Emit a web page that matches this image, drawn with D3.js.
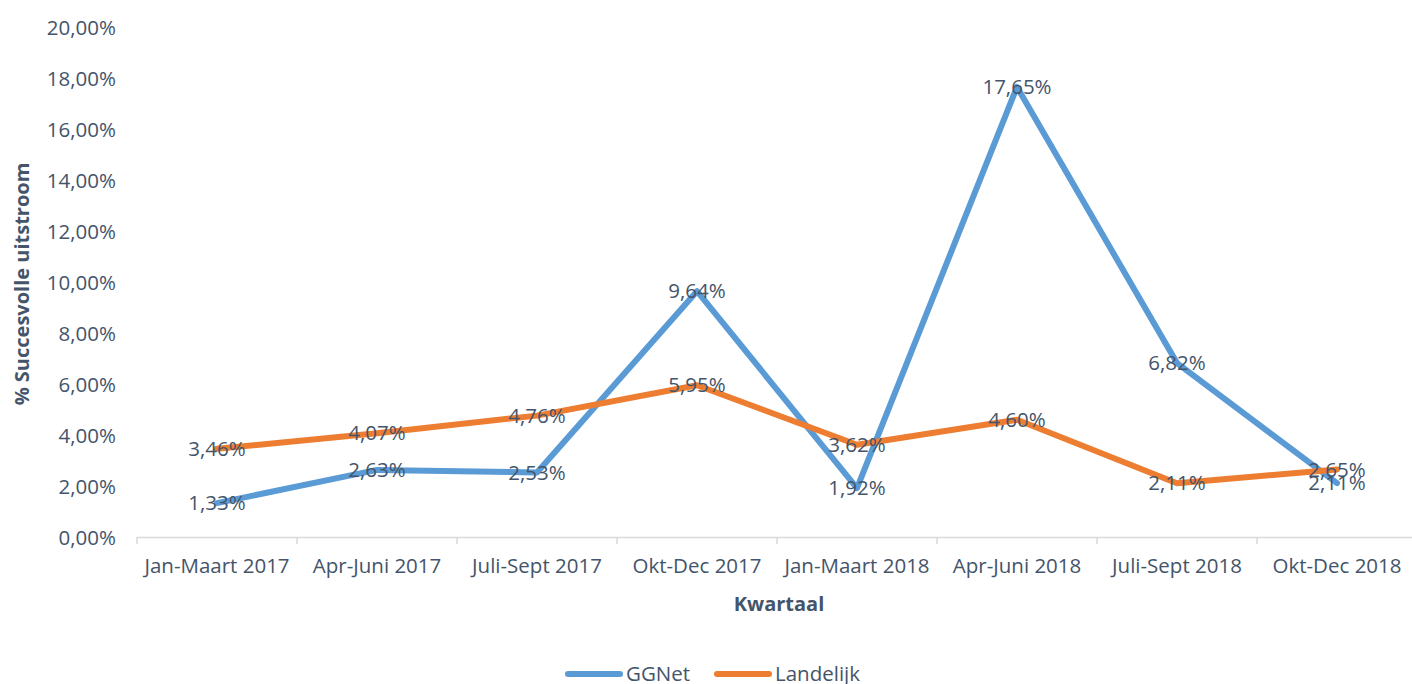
<!DOCTYPE html>
<html>
<head>
  <meta charset="utf-8">
  <script src="https://d3js.org/d3.v7.min.js"></script>
  <style>
    body { margin: 0; background: #fff; font-family: "Open Sans", sans-serif; }
    .tick text { fill: #44546A; font-size: 20.5px; font-family: "Open Sans", sans-serif; }
    .lbl { fill: #44546A; font-size: 20.5px; }
    .title { fill: #44546A; font-size: 20px; font-weight: bold; }
  </style>
</head>
<body>
  <svg width="1412" height="684"></svg>
  <script>
    // data
    const quarters = ['Jan-Maart 2017', 'Apr-Juni 2017', 'Juli-Sept 2017', 'Okt-Dec 2017',
      'Jan-Maart 2018', 'Apr-Juni 2018', 'Juli-Sept 2018', 'Okt-Dec 2018'];
    const ggnet = [1.33, 2.63, 2.53, 9.64, 1.92, 17.65, 6.82, 2.11];
    const landelijk = [3.46, 4.07, 4.76, 5.95, 3.62, 4.60, 2.11, 2.65];
    const yTicks = [0, 2, 4, 6, 8, 10, 12, 14, 16, 18, 20];
    const seriesNames = ['GGNet', 'Landelijk'];
    const colors = ['#5B9BD5', '#ED7D31'];

    const svg = d3.select('svg');
    const fmt = v => v.toFixed(2).replace('.', ',') + '%';

    const x = d3.scaleBand().domain(quarters).range([137, 1417]);
    const y = d3.scaleLinear().domain([0, 20]).range([537, 27]);

    // y axis (labels only)
    const yAxisG = svg.append('g')
      .attr('transform', 'translate(116,0)')
      .call(d3.axisLeft(y).tickValues(yTicks).tickSize(0).tickPadding(0).tickFormat(fmt));
    yAxisG.select('.domain').remove();
    yAxisG.selectAll('text').attr('dy', '0.35em');

    // x axis
    const xAxisG = svg.append('g')
      .attr('transform', 'translate(0,537)')
      .call(d3.axisBottom(x).tickSize(0).tickPadding(21));
    xAxisG.select('.domain').attr('stroke', '#D9D9D9').attr('stroke-width', 1.5);
    xAxisG.selectAll('.tick line').remove();
    // ticks at band boundaries
    const bounds = quarters.map(q => x(q)).concat([x.range()[1]]);
    xAxisG.selectAll('.bnd').data(bounds).enter().append('line')
      .attr('x1', d => d).attr('x2', d => d)
      .attr('y1', 0).attr('y2', 7)
      .attr('stroke', '#D9D9D9').attr('stroke-width', 1.5);

    // lines
    const series = [ggnet, landelijk];
    const line = d3.line()
      .x((d, i) => x(quarters[i]) + x.bandwidth() / 2)
      .y(d => y(d));

    series.forEach((s, k) => {
      svg.append('path')
        .datum(s)
        .attr('fill', 'none')
        .attr('stroke', colors[k])
        .attr('stroke-width', 6)
        .attr('stroke-linecap', 'round')
        .attr('stroke-linejoin', 'round')
        .attr('d', line);
    });

    // data labels centred on points
    series.forEach(s => {
      svg.append('g').selectAll('text').data(s).enter().append('text')
        .attr('class', 'lbl')
        .attr('x', (d, i) => x(quarters[i]) + x.bandwidth() / 2)
        .attr('y', d => y(d))
        .attr('dy', '0.35em')
        .attr('text-anchor', 'middle')
        .text(fmt);
    });

    // axis titles
    svg.append('text')
      .attr('class', 'title')
      .attr('transform', 'translate(29,284) rotate(-90)')
      .attr('text-anchor', 'middle')
      .text('% Succesvolle uitstroom');

    svg.append('text')
      .attr('class', 'title')
      .attr('x', 779).attr('y', 611)
      .attr('text-anchor', 'middle')
      .text('Kwartaal');

    // legend
    const legX = [568, 717];
    seriesNames.forEach((n, k) => {
      svg.append('line')
        .attr('x1', legX[k]).attr('x2', legX[k] + 52)
        .attr('y1', 674).attr('y2', 674)
        .attr('stroke', colors[k]).attr('stroke-width', 6)
        .attr('stroke-linecap', 'round');
      svg.append('text')
        .attr('class', 'lbl')
        .attr('x', legX[k] + 58).attr('y', 674)
        .attr('dy', '0.35em')
        .text(n);
    });
  </script>
</body>
</html>
